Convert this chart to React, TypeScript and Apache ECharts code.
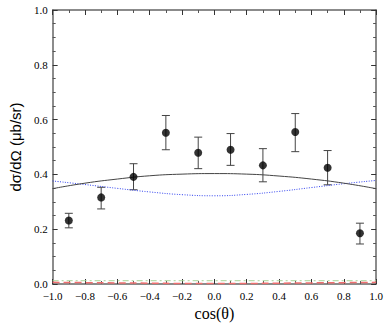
import React, { useEffect, useRef } from "react";
import * as echarts from "echarts";

const xData = [-0.9, -0.7, -0.5, -0.3, -0.1, 0.1, 0.3, 0.5, 0.7, 0.9];
const yData = [0.232, 0.316, 0.391, 0.552, 0.479, 0.49, 0.433, 0.555, 0.424, 0.185];
const yLow = [0.205, 0.274, 0.344, 0.49, 0.421, 0.433, 0.373, 0.483, 0.362, 0.146];
const yHigh = [0.258, 0.353, 0.439, 0.615, 0.536, 0.549, 0.494, 0.622, 0.487, 0.222];

const curveX = [-1.0, -0.8, -0.6, -0.4, -0.2, 0.0, 0.2, 0.4, 0.6, 0.8, 1.0];
const solidY = [0.348, 0.368, 0.383, 0.395, 0.401, 0.403, 0.401, 0.394, 0.383, 0.368, 0.348];
const blueY = [0.376, 0.363, 0.349, 0.336, 0.326, 0.322, 0.327, 0.338, 0.352, 0.366, 0.378];
const greenY = [0.012, 0.012, 0.012, 0.012, 0.012, 0.012, 0.012, 0.012, 0.012, 0.012, 0.012];
const redY = [0.006, 0.005, 0.004, 0.003, 0.002, 0.002, 0.002, 0.003, 0.004, 0.005, 0.006];

const xTicks = [-1.0, -0.8, -0.6, -0.4, -0.2, 0.0, 0.2, 0.4, 0.6, 0.8, 1.0];

const SERIF = "'Times New Roman', 'Liberation Serif', serif";
const SANS = "Arial, 'Liberation Sans', sans-serif";

const fmt = (v: number) => {
  const s = Math.abs(v).toFixed(1);
  return v < -1e-9 ? "\u2212" + s : s;
};

export default function App() {
  const ref = useRef<HTMLDivElement>(null);
  useEffect(() => {
    if (!ref.current) return;
    const chart = echarts.init(ref.current, null, { renderer: "svg" });
    const axisLine = { show: true, onZero: false, lineStyle: { color: "#666", width: 1.5 } };
    const tick = { show: true, inside: true, length: 5, lineStyle: { color: "#333" } };
    const minor = { show: true, splitNumber: 2, length: 3, lineStyle: { color: "#555" } };
    const mk = (ys: number[]) => curveX.map((x, i) => [x, ys[i]]);
    chart.setOption({
      animation: false,
      backgroundColor: "#fff",
      grid: { left: 45, right: 9, top: 10, bottom: 43 },
      xAxis: [
        {
          type: "value",
          min: -1,
          max: 1,
          interval: 0.2,
          axisLine,
          axisTick: tick,
          minorTick: minor,
          splitLine: { show: false },
          axisLabel: {
            color: "#000",
            fontFamily: SERIF,
            fontSize: 11,
            margin: 6,
            formatter: (v: number) => fmt(v),
            customValues: xTicks,
          },
          name: "cos(\u03b8)",
          nameLocation: "middle",
          nameGap: 21,
          nameTextStyle: { color: "#000", fontFamily: SERIF, fontSize: 16 },
        },
        {
          type: "value",
          position: "top",
          min: -1,
          max: 1,
          interval: 0.2,
          axisLine,
          axisTick: tick,
          minorTick: minor,
          splitLine: { show: false },
          axisLabel: { show: false },
        },
      ],
      yAxis: [
        {
          type: "value",
          min: 0,
          max: 1,
          interval: 0.2,
          axisLine,
          axisTick: tick,
          minorTick: { ...minor, splitNumber: 4 },
          splitLine: { show: false },
          axisLabel: {
            color: "#000",
            fontFamily: SERIF,
            fontSize: 11,
            margin: 5,
            formatter: (v: number) => fmt(v),
          },
          name: "d\u03c3/d\u03a9 (\u03bcb/sr)",
          nameLocation: "middle",
          nameGap: 28,
          nameTextStyle: { color: "#000", fontFamily: SANS, fontSize: 15 },
        },
        {
          type: "value",
          position: "right",
          min: 0,
          max: 1,
          interval: 0.2,
          axisLine,
          axisTick: tick,
          minorTick: { ...minor, splitNumber: 4 },
          splitLine: { show: false },
          axisLabel: { show: false },
        },
      ],
      series: [
        {
          type: "line",
          data: mk(greenY),
          symbol: "none",
          lineStyle: { color: "#a8d498", width: 1, type: [6, 3, 2, 3] },
        },
        {
          type: "line",
          data: mk(redY),
          symbol: "none",
          smooth: true,
          lineStyle: { color: "#f07070", width: 1.5, type: [7, 4] },
        },
        {
          type: "line",
          data: mk(blueY),
          symbol: "none",
          smooth: true,
          lineStyle: { color: "#3344ee", width: 1, type: [1, 1.5] },
        },
        {
          type: "line",
          data: mk(solidY),
          symbol: "none",
          smooth: true,
          lineStyle: { color: "#444", width: 1 },
        },
        {
          type: "custom",
          data: xData.map((x, i) => [x, yLow[i], yHigh[i]]),
          renderItem: (params: any, api: any) => {
            const x = api.value(0);
            const lo = api.coord([x, api.value(1)]);
            const hi = api.coord([x, api.value(2)]);
            const w = 4;
            const style = { stroke: "#444", lineWidth: 1 };
            return {
              type: "group",
              children: [
                { type: "line", shape: { x1: lo[0], y1: lo[1], x2: hi[0], y2: hi[1] }, style },
                { type: "line", shape: { x1: lo[0] - w, y1: lo[1], x2: lo[0] + w, y2: lo[1] }, style },
                { type: "line", shape: { x1: hi[0] - w, y1: hi[1], x2: hi[0] + w, y2: hi[1] }, style },
              ],
            };
          },
          z: 3,
        },
        {
          type: "scatter",
          data: xData.map((x, i) => [x, yData[i]]),
          symbol: "circle",
          symbolSize: 8,
          itemStyle: { color: "#000" },
          z: 4,
        },
      ],
    });
    return () => chart.dispose();
  }, []);
  return (
    <div
      ref={ref}
      style={{ position: "fixed", left: 0, top: 0, width: 386, height: 327, background: "#fff" }}
    />
  );
}
